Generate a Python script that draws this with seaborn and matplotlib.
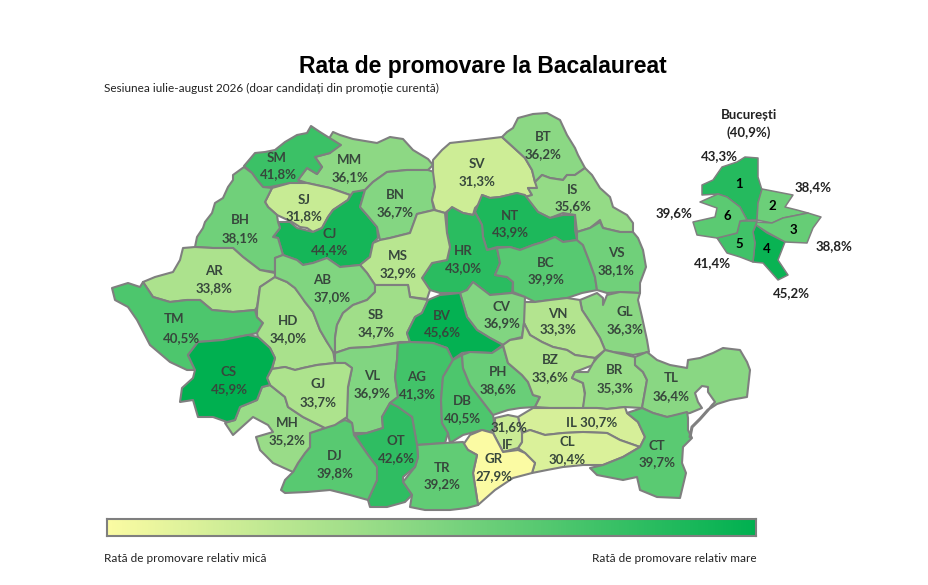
import numpy as np
import matplotlib.pyplot as plt
import seaborn as sns

# county codes and pass rates
counties = ['MM','SM','SJ','CJ','BN','SV','BT','IS','NT','HR','BC','VS','GL','VN','CV','MS','BH','AR','TM','CS','HD','AB','SB',
            'BV','VL','AG','DB','PH','BZ','BR','TL','IL','CL','CT','IF','GR','TR','OT','DJ','MH','GJ']
rates = [36.1,41.8,31.8,44.4,36.7,31.3,36.2,35.6,43.9,43.0,39.9,38.1,36.3,33.3,36.9,32.9,38.1,33.8,40.5,45.9,34.0,37.0,34.7,
         45.6,36.9,41.3,40.5,38.6,33.6,35.3,36.4,30.7,30.4,39.7,31.6,27.9,39.2,42.6,39.8,35.2,33.7]

# Bucharest sectors
sectors = ['1','2','3','4','5','6']
sector_rates = [43.3,38.4,38.8,45.2,41.4,39.6]

outlines = {
'SM':[(244,166),(255,153),(265,152),(275,150),(285,142),(297,135),(307,133),(311,126),(320,132),(328,137),(341,145),(330,153),(315,157),(322,167),(317,174),(307,168),(298,180),(305,187),(290,183),(270,187),(263,187),(257,180),(252,173)],
'MM':[(330,137),(333,132),(340,135),(353,139),(377,143),(390,137),(403,139),(413,150),(428,159),(433,165),(428,170),(407,170),(387,172),(373,182),(365,190),(350,195),(330,188),(307,183),(298,180),(307,168),(317,174),(322,167),(315,157),(330,153)],
'SJ':[(265,202),(272,188),(290,183),(307,183),(330,188),(350,195),(348,200),(333,210),(328,217),(322,228),(313,232),(307,228),(300,227),(292,222),(277,215),(268,207)],
'CJ':[(353,192),(365,190),(360,207),(367,215),(377,227),(378,238),(373,243),(370,257),(360,265),(340,267),(327,258),(313,263),(303,265),(297,260),(283,255),(278,238),(273,237),(280,228),(278,222),(290,222),(297,228),(313,232),(322,228),(328,217),(333,210),(348,200)],
'BN':[(365,190),(373,182),(387,172),(407,170),(428,170),(434,172),(435,187),(432,200),(434,210),(417,214),(412,228),(410,233),(390,238),(380,240),(377,227),(367,215),(360,207)],
'SV':[(433,160),(442,150),(450,143),(477,140),(502,137),(513,147),(525,158),(532,170),(535,182),(538,183),(537,188),(528,188),(532,195),(525,197),(517,193),(500,197),(490,198),(482,195),(483,200),(475,208),(473,215),(463,213),(452,208),(445,213),(435,210),(432,200),(435,187),(433,172)],
'BT':[(502,137),(507,132),(513,128),(518,118),(533,114),(547,113),(560,120),(567,135),(575,148),(578,155),(585,168),(575,175),(567,175),(563,180),(550,178),(542,175),(535,182),(532,170),(525,158),(513,147)],
'IS':[(535,182),(542,175),(550,178),(563,180),(567,175),(575,175),(585,168),(592,175),(600,188),(610,197),(613,207),(627,215),(633,223),(633,232),(620,232),(603,228),(600,220),(590,228),(577,232),(575,215),(563,213),(550,218),(538,212),(525,197),(532,195),(528,188),(537,188)],
'NT':[(482,195),(490,198),(500,197),(517,193),(525,195),(538,212),(550,218),(563,215),(575,215),(575,230),(577,240),(563,242),(555,237),(543,242),(533,245),(520,250),(510,247),(497,247),(487,250),(483,237),(482,225),(475,212)],
'HR':[(447,212),(452,207),(463,213),(473,215),(475,212),(482,225),(483,237),(487,250),(497,248),(500,263),(495,275),(507,277),(513,282),(512,293),(490,295),(473,282),(467,290),(460,293),(440,293),(430,290),(422,278),(432,263),(447,260),(450,247),(447,233)],
'BC':[(497,248),(510,247),(520,250),(533,245),(543,242),(555,237),(563,242),(577,240),(583,245),(590,263),(595,277),(597,290),(582,293),(567,298),(550,300),(535,302),(525,297),(513,292),(513,282),(507,277),(495,275),(500,263)],
'VS':[(577,232),(590,228),(600,222),(603,228),(620,232),(633,232),(638,238),(643,250),(646,267),(640,283),(640,293),(620,292),(607,293),(597,290),(595,277),(590,263),(583,245),(577,240)],
'GL':[(580,300),(597,293),(603,298),(603,305),(607,295),(620,292),(640,293),(638,300),(642,317),(647,340),(649,352),(633,355),(623,353),(613,352),(605,350),(600,338),(590,322),(582,310)],
'VN':[(524,302),(535,302),(550,300),(567,298),(580,300),(582,310),(590,322),(600,338),(605,350),(595,358),(588,357),(575,355),(567,350),(553,347),(542,342),(530,335),(524,323)],
'CV':[(460,293),(467,290),(473,282),(490,295),(512,293),(525,297),(524,323),(522,337),(510,340),(503,345),(490,338),(477,330),(467,317)],
'MS':[(373,243),(380,240),(390,238),(410,233),(417,214),(434,210),(445,213),(447,233),(450,247),(447,260),(432,263),(422,278),(430,290),(427,299),(410,297),(408,285),(392,285),(375,285),(367,273),(360,265),(370,257)],
'BH':[(233,175),(244,167),(252,173),(257,180),(263,187),(272,188),(265,202),(268,207),(277,215),(278,222),(280,228),(273,237),(278,238),(283,255),(275,258),(275,272),(260,270),(243,257),(233,248),(213,248),(195,247),(197,237),(203,228),(205,222),(212,213),(215,203),(223,198),(228,187),(233,180)],
'AR':[(195,247),(213,248),(233,248),(243,257),(260,270),(275,273),(275,277),(260,287),(257,307),(255,310),(233,312),(212,310),(200,300),(187,300),(170,302),(153,297),(143,282),(155,277),(173,272),(180,260),(183,248)],
'TM':[(112,288),(128,283),(140,287),(143,282),(153,297),(170,302),(187,300),(200,300),(212,310),(233,312),(255,310),(257,317),(263,323),(257,333),(248,335),(223,340),(198,342),(188,355),(195,370),(187,370),(170,362),(150,345),(137,320),(128,307),(115,300)],
'CS':[(198,342),(223,340),(248,335),(258,337),(270,348),(275,358),(272,368),(267,378),(270,385),(262,387),(257,400),(240,407),(235,420),(227,422),(213,417),(198,417),(193,400),(180,402),(182,388),(193,378),(195,370),(188,355)],
'HD':[(257,310),(260,287),(275,277),(287,282),(295,288),(302,297),(305,302),(313,312),(320,330),(327,342),(333,350),(335,363),(317,365),(303,368),(295,370),(285,367),(272,369),(275,358),(270,348),(258,337),(257,333),(263,323),(257,317)],
'AB':[(275,258),(283,255),(297,260),(303,265),(313,263),(327,258),(340,267),(360,265),(367,273),(375,285),(375,292),(367,300),(353,305),(343,313),(337,325),(335,338),(335,355),(327,342),(320,330),(313,312),(305,302),(295,288),(287,282),(275,277)],
'SB':[(375,285),(392,285),(408,285),(410,297),(428,300),(422,313),(415,317),(407,333),(410,342),(400,342),(370,347),(350,348),(335,353),(335,338),(337,325),(343,313),(353,305),(367,300),(375,292)],
'BV':[(407,333),(415,317),(422,313),(428,300),(440,295),(460,293),(467,317),(477,330),(490,338),(503,345),(492,353),(470,352),(462,353),(452,360),(447,348),(433,343),(410,342)],
'VL':[(335,353),(350,348),(370,347),(398,343),(397,360),(395,377),(398,397),(390,403),(382,417),(383,428),(367,433),(353,433),(352,423),(345,417),(347,403),(348,387),(352,368),(345,363),(335,363)],
'AG':[(398,343),(410,342),(433,343),(447,348),(453,360),(443,377),(441,400),(442,423),(448,433),(445,443),(417,445),(412,417),(398,408),(390,403),(398,397),(395,377),(397,360)],
'DB':[(453,360),(462,355),(463,368),(470,385),(483,402),(493,415),(495,428),(490,432),(482,430),(463,435),(450,443),(448,433),(442,423),(441,400),(443,377)],
'PH':[(462,355),(470,352),(492,353),(503,346),(508,363),(522,375),(528,382),(533,395),(540,397),(535,407),(520,408),(508,410),(493,415),(483,402),(470,385),(463,368)],
'BZ':[(503,345),(510,340),(522,338),(524,323),(530,335),(542,342),(553,347),(567,350),(575,355),(588,357),(595,358),(593,365),(575,372),(572,378),(583,383),(585,395),(583,410),(580,412),(575,408),(550,408),(535,407),(540,397),(533,395),(528,382),(522,375),(508,363)],
'BR':[(605,350),(617,353),(635,357),(635,365),(643,372),(647,380),(642,408),(625,407),(607,409),(597,408),(583,408),(585,393),(583,383),(572,378),(575,372),(588,372),(593,363),(597,358)],
'TL':[(635,357),(647,352),(657,360),(670,365),(687,368),(688,360),(700,358),(713,353),(723,348),(740,350),(747,362),(750,370),(747,397),(730,400),(717,404),(708,410),(712,405),(715,402),(708,392),(708,387),(702,386),(695,393),(698,402),(702,408),(690,413),(667,417),(653,413),(642,408),(647,380),(643,372),(635,365)],
'IL':[(518,417),(533,408),(550,408),(578,408),(597,408),(607,409),(625,407),(627,413),(638,422),(645,437),(640,447),(620,440),(607,433),(583,432),(563,433),(545,435),(530,430),(522,433)],
'CL':[(530,430),(545,435),(563,433),(583,432),(607,433),(620,440),(640,447),(623,457),(603,465),(583,465),(563,467),(547,470),(532,473),(535,463),(525,453),(518,448),(522,442),(522,433)],
'CT':[(627,413),(642,408),(653,413),(667,417),(687,412),(688,418),(688,430),(692,438),(683,447),(682,463),(686,473),(680,498),(657,497),(640,490),(637,477),(623,480),(597,475),(590,468),(603,465),(623,457),(640,447),(645,437),(638,422)],
'IF':[(495,418),(508,415),(518,417),(522,433),(522,442),(518,448),(503,452),(493,433),(495,428)],
'GR':[(463,445),(470,435),(482,430),(493,433),(503,452),(518,450),(525,453),(535,463),(532,473),(513,478),(495,490),(478,505),(473,473),(477,455),(468,450)],
'TR':[(417,445),(445,443),(463,442),(468,450),(477,455),(473,473),(478,505),(467,508),(450,510),(425,510),(410,507),(412,495),(403,482),(415,467),(418,457)],
'OT':[(390,403),(398,407),(412,417),(417,445),(418,457),(415,467),(403,477),(403,482),(412,495),(405,502),(387,507),(370,507),(368,500),(377,480),(377,467),(368,455),(355,435),(367,433),(383,428),(382,417)],
'DJ':[(310,433),(325,428),(345,420),(352,423),(354,435),(368,455),(377,467),(377,480),(368,500),(350,495),(330,490),(307,492),(285,493),(281,490),(285,480),(293,472),(298,463),(305,453),(310,447)],
'MH':[(270,385),(285,397),(288,407),(303,417),(325,428),(310,433),(310,447),(305,453),(298,463),(293,472),(273,463),(260,450),(256,437),(273,432),(268,425),(253,417),(233,435),(225,423),(235,420),(240,407),(257,400),(262,387)],
'GJ':[(267,378),(272,369),(285,367),(295,370),(303,368),(317,365),(335,363),(345,363),(352,368),(348,387),(347,417),(335,425),(325,428),(303,417),(288,407),(285,397),(270,385)],
}
# sand bar in front of the lagoons
barrier = [(708,410),(700,419),(692,427),(690,437)]

sector_outlines = {
'1':[(702,185),(713,180),(722,167),(737,162),(745,157),(758,158),(758,177),(762,190),(758,203),(757,220),(747,220),(740,207),(727,197),(718,194),(702,195)],
'2':[(762,189),(793,195),(785,207),(797,210),(808,213),(783,218),(772,223),(757,220),(758,203)],
'3':[(757,222),(772,223),(783,218),(808,213),(821,217),(813,228),(807,243),(785,242),(767,232),(756,225)],
'4':[(756,225),(767,233),(785,242),(778,260),(788,275),(778,280),(763,263),(753,262),(755,243),(753,232)],
'5':[(740,221),(757,221),(753,232),(755,243),(753,262),(740,257),(727,253),(717,238),(737,233)],
'6':[(700,202),(718,194),(727,197),(740,207),(747,220),(740,221),(737,233),(717,238),(697,235),(693,222),(715,217),(717,208)],
}

# where the labels sit: code, then value
code_pos = {'SM':(277,158),'MM':(350,160),'SJ':(304,200),'BN':(395,195),'CJ':(330,234),'BH':(240,220),'AR':(214,271),'SV':(477,164),
            'BT':(543,137),'IS':(573,190),'NT':(510,216),'HR':(463,251),'MS':(398,256),'BC':(546,263),'VS':(616,253),'AB':(322,280),
            'BV':(442,316),'CV':(502,307),'SB':(376,315),'VN':(558,314),'GL':(625,312),'TM':(174,319),'HD':(288,321),'CS':(229,372),
            'GJ':(318,384),'VL':(372,376),'AG':(417,377),'DB':(462,401),'PH':(498,372),'BZ':(550,360),'BR':(615,370),'TL':(671,378),
            'MH':(287,423),'DJ':(335,456),'OT':(396,441),'TR':(442,468),'GR':(494,459),'IF':(508,445),'CL':(567,442),'CT':(657,446)}
value_pos = {'SM':(278,174),'MM':(350,177),'SJ':(304,216),'BN':(395,212),'CJ':(330,250),'BH':(240,238),'AR':(214,288),'SV':(477,181),
             'BT':(543,154),'IS':(573,206),'NT':(510,232),'HR':(463,268),'MS':(398,273),'BC':(546,279),'VS':(616,270),'AB':(332,297),
             'BV':(442,332),'CV':(502,323),'SB':(376,332),'VN':(558,329),'GL':(625,329),'TM':(181,338),'HD':(288,338),'CS':(229,389),
             'GJ':(318,402),'VL':(372,393),'AG':(417,394),'DB':(462,418),'PH':(498,389),'BZ':(550,377),'BR':(615,388),'TL':(671,396),
             'MH':(287,440),'DJ':(335,473),'OT':(396,458),'TR':(442,484),'GR':(494,476),'IF':(509,427),'CL':(567,459),'CT':(657,462)}
sector_num_pos = {'1':(739,184),'2':(772,206),'3':(793,230),'4':(767,249),'5':(739,244),'6':(727,216)}
sector_val_pos = {'1':(719,156),'2':(813,187),'3':(834,246),'4':(791,293),'5':(712,263),'6':(674,213)}

sns.set_theme(style='white')
plt.rcParams['font.family'] = ['Lato', 'DejaVu Sans']

cmap = sns.blend_palette(['#FBFBA3', '#82D581', '#00B050'], as_cmap=True)
vmin, vmax = 27.9, 45.9
edge = '#7F7F7F'
dark = '#37473C'

def shade(v):
    return cmap((v - vmin) / (vmax - vmin))

fig = plt.figure(figsize=(9.29, 5.85), dpi=100)
ax = fig.add_axes([0, 0, 1, 1])
ax.set_xlim(0, 929)
ax.set_ylim(585, 0)
ax.axis('off')

for c, v in zip(counties, rates):
    xs, ys = zip(*outlines[c])
    ax.fill(xs, ys, fc=shade(v), ec=edge, lw=1.5, joinstyle='round', zorder=2 if c == 'CS' else 1)
ax.plot(*zip(*barrier), color=edge, lw=2.2, zorder=1)

for c, v in zip(counties, rates):
    val = f'{v:.1f}%'.replace('.', ',')
    if c == 'IL':
        ax.text(592, 422, 'IL ' + val, ha='center', va='center', fontsize=9.5, fontweight='bold', color=dark, zorder=5)
        continue
    ax.text(*code_pos[c], c, ha='center', va='center', fontsize=9.5, fontweight='bold', color=dark, zorder=5)
    ax.text(*value_pos[c], val, ha='center', va='center', fontsize=9.5, fontweight='bold', color=dark, zorder=5)

for s, v in zip(sectors, sector_rates):
    xs, ys = zip(*sector_outlines[s])
    ax.fill(xs, ys, fc=shade(v), ec=edge, lw=1.1, joinstyle='round')
    ax.text(*sector_num_pos[s], s, ha='center', va='center', fontsize=9.5, fontweight='bold', color='black')
    ax.text(*sector_val_pos[s], f'{v:.1f}%'.replace('.', ','), ha='center', va='center', fontsize=9.5, fontweight='bold', color='#222222')

ax.text(749, 115, 'București', ha='center', va='center', fontsize=9.5, fontweight='bold', color='#222222')
ax.text(749, 133, '(40,9%)', ha='center', va='center', fontsize=9.5, fontweight='bold', color='#222222')

ax.text(483, 66, 'Rata de promovare la Bacalaureat', ha='center', va='center', fontsize=16.5, fontweight='bold',
        family=['Liberation Sans', 'DejaVu Sans'], color='black')
ax.text(104, 88, 'Sesiunea iulie-august 2026 (doar candidați din promoție curentă)', ha='left', va='center', fontsize=8.5, color='#222222')
ax.text(104, 559, 'Rată de promovare relativ mică', ha='left', va='center', fontsize=8.5, color='#222222')
ax.text(757, 559, 'Rată de promovare relativ mare', ha='right', va='center', fontsize=8.5, color='#222222')

# legend ramp
cax = fig.add_axes([107 / 929, 1 - 536 / 585, 649 / 929, 17 / 585])
sns.heatmap(np.linspace(vmin, vmax, 256).reshape(1, -1), cmap=cmap, vmin=vmin, vmax=vmax, cbar=False,
            xticklabels=False, yticklabels=False, ax=cax)
for sp in cax.spines.values():
    sp.set_visible(True)
    sp.set_color(edge)
    sp.set_linewidth(1.5)

fig.savefig('out.png', dpi=100)
